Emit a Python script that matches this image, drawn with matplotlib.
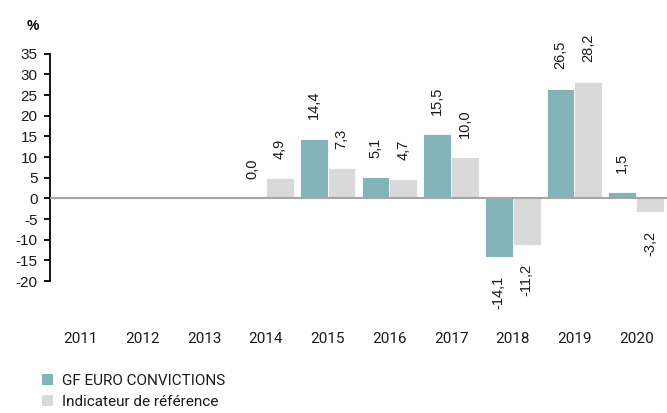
import matplotlib
matplotlib.use("Agg")
import matplotlib.pyplot as plt
from matplotlib.patches import Patch
import numpy as np

years = ["2011", "2012", "2013", "2014", "2015", "2016", "2017", "2018", "2019", "2020"]
fund = [None, None, None, 0.0, 14.4, 5.1, 15.5, -14.1, 26.5, 1.5]
bench = [None, None, None, 4.9, 7.3, 4.7, 10.0, -11.2, 28.2, -3.2]
series_names = ["GF EURO CONVICTIONS", "Indicateur de référence"]
colors = ["#82B4BA", "#D9D9D9"]
yticks = [35, 30, 25, 20, 15, 10, 5, 0, -5, -10, -15, -20]

W, H = 667, 413
fig = plt.figure(figsize=(W / 100, H / 100), dpi=100)
ax = fig.add_axes([50 / W, 1 - 324 / H, 617 / W, (324 - 53) / H])

x = np.arange(len(years))
bw = 0.45
val_font = dict(family=["Liberation Sans", "DejaVu Sans"], size=10.5, color="#1a1a1a")
for i, (series, col, off) in enumerate(zip([fund, bench], colors, [-bw / 2, bw / 2])):
    for xi, v in zip(x, series):
        if v is None:
            continue
        ax.bar(xi + off, v, width=bw, color=col, edgecolor="white", linewidth=0.6, zorder=2)
        lab = f"{v:.1f}".replace(".", ",")
        if v >= 0:
            ax.annotate(lab, (xi + off, v), xytext=(0, 14), textcoords="offset points",
                        rotation=90, ha="center", va="bottom", **val_font)
        else:
            ax.annotate(lab, (xi + off, v), xytext=(0, -14), textcoords="offset points",
                        rotation=90, ha="center", va="top", **val_font)

ax.axhline(0, color="#A6A6A6", lw=1.5, zorder=3)
ax.set_xlim(-0.5, len(years) - 0.5)
ax.set_ylim(-30.4, 35.2)
ax.spines["left"].set_bounds(-20, 35)
for s in ["top", "right", "bottom"]:
    ax.spines[s].set_visible(False)
ax.spines["left"].set_linewidth(1.3)
ax.set_yticks(yticks)
ax.set_yticklabels([str(t) for t in yticks], family=["Liberation Sans", "DejaVu Sans"], fontsize=11, color="#1a1a1a")
ax.tick_params(axis="y", length=4, width=1.3, pad=5)
ax.set_xticks(x)
ax.set_xticklabels(years, family=["Roboto", "DejaVu Sans"], fontsize=11, color="#1a1a1a")
ax.tick_params(axis="x", length=0, pad=6)

fig.text(33 / W, 1 - 26 / H, "%", ha="center", va="center", fontsize=10, fontweight="bold",
         family=["Liberation Sans", "DejaVu Sans"])

handles = [Patch(facecolor=c, edgecolor="none") for c in colors]
leg = fig.legend(handles, series_names, loc="upper left", bbox_to_anchor=(42 / W, 1 - 374 / H),
                 frameon=False, handlelength=0.7, handleheight=0.7, handletextpad=0.6,
                 labelspacing=0.45, borderpad=0, borderaxespad=0,
                 prop=dict(family=["Roboto", "DejaVu Sans"], size=11))
for t in leg.get_texts():
    t.set_color("#1a1a1a")

fig.savefig("out.png", dpi=100)
